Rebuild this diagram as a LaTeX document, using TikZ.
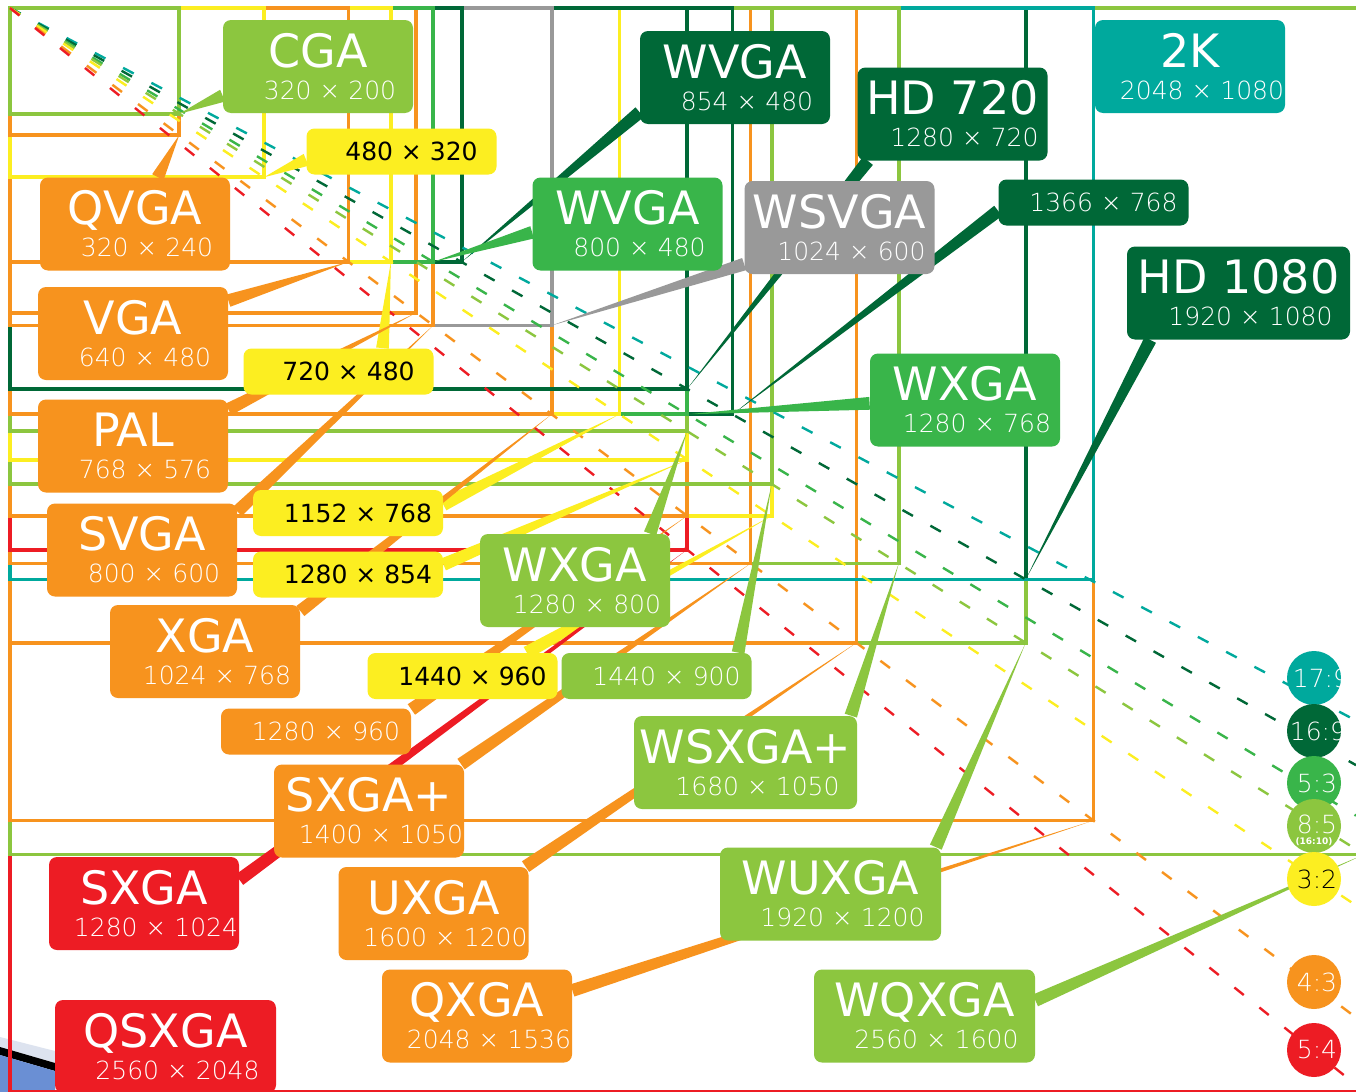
\documentclass[tikz,border=0pt]{standalone}
\usepackage{fontspec}
\setmainfont{DejaVu Sans}
\IfFontExistsTF{DejaVu Sans ExtraLight}
  {\newfontfamily\thinfont{DejaVu Sans ExtraLight}}
  {\newfontfamily\thinfont{DejaVu Sans}}
\usepackage{xcolor}
\usepackage{tikz}
\usetikzlibrary{calc}
\definecolor{resorange}{HTML}{F7931E}
\definecolor{resred}{HTML}{ED1C24}
\definecolor{resyellow}{HTML}{FCEE21}
\definecolor{reslgreen}{HTML}{8CC63F}
\definecolor{resmgreen}{HTML}{39B54A}
\definecolor{resdgreen}{HTML}{006837}
\definecolor{resteal}{HTML}{00A99D}
\definecolor{resgrey}{HTML}{999999}
\definecolor{artband}{HTML}{DDE3EF}
\definecolor{artblue}{HTML}{6A8FD4}
\pgfdeclarelayer{back}
\pgfdeclarelayer{mid}
\pgfsetlayers{back,mid,main}
\newcommand{\namefont}{\rmfamily\fontsize{23}{23}\selectfont}
\newcommand{\resname}[2]{{\namefont #1}\\\hspace*{12pt}#2}

\begin{document}
\begin{tikzpicture}[
  x=0.5pt, y=-0.5pt,
  resline/.style={line width=1.8pt},
  diag/.style={line width=1.2pt, dash pattern=on 6pt off 10pt},
  resbox/.style={rounded corners=4pt, align=center, inner sep=0pt,
                 minimum width=95pt, minimum height=46.5pt, text=white,
                 font=\thinfont\fontsize{12.5}{16}\selectfont},
  dimbox/.style={rounded corners=4pt, inner sep=0pt, minimum width=95pt,
                 minimum height=23pt, font=\fontsize{12.5}{15}\selectfont},
  thindim/.style={dimbox, text=white, font=\thinfont\fontsize{12.5}{15}\selectfont},
  ratiobox/.style={circle, inner sep=0pt, minimum size=27pt, text=white,
                   font=\thinfont\fontsize{12.5}{15}\selectfont}
]
\useasboundingbox (0,0) rectangle (1356,1092);
\coordinate (o) at (10,8);
% ----- resolution frames and aspect diagonals -----
\begin{pgfonlayer}{back}
\clip (0,0) rectangle (1356,1092);
\fill[white] (0,0) rectangle (1356,1092);
% screen edge, bottom left
\fill[artband] (0,1037) -- (55,1051) -- (55,1063) -- (0,1047) -- cycle;
\fill[black] (0,1047) -- (55,1063) -- (55,1071) -- (0,1055) -- cycle;
\fill[artblue] (0,1055) -- (55,1071) -- (55,1092) -- (0,1092) -- cycle;
\foreach \w/\h/\c in {2560/2048/resred, 2560/1600/reslgreen, 2048/1536/resorange,
    1920/1200/reslgreen, 1600/1200/resorange, 1920/1080/resdgreen, 2048/1080/resteal,
    1680/1050/reslgreen, 1400/1050/resorange, 1280/1024/resred, 1440/960/resyellow,
    1280/960/resorange, 1440/900/reslgreen, 1280/854/resyellow, 1280/800/reslgreen,
    1366/768/resdgreen, 1280/768/resmgreen, 1152/768/resyellow, 1024/768/resorange,
    1280/720/resdgreen, 1024/600/resgrey, 800/600/resorange, 768/576/resorange,
    854/480/resdgreen, 800/480/resmgreen, 720/480/resyellow, 640/480/resorange,
    480/320/resyellow, 320/240/resorange, 320/200/reslgreen}{
  \coordinate (c\w-\h) at ({10+0.529*\w},{8+0.529*\h});
  \draw[resline, \c] (o) rectangle (c\w-\h);
}
\foreach \m/\c in {0.5294/resteal, 0.5625/resdgreen, 0.6/resmgreen, 0.625/reslgreen,
    0.6667/resyellow, 0.75/resorange, 0.8/resred}
  {\draw[diag, \c] (o) -- ++(1346,{1346*\m});}
\end{pgfonlayer}
% ----- labels -----
\node[resbox, fill=reslgreen] (cga) at (318,66.5) {\resname{CGA}{320 × 200}};
\node[resbox, fill=resorange] (qvga) at (135,224) {\resname{QVGA}{320 × 240}};
\node[resbox, fill=resorange] (vga) at (133,333.5) {\resname{VGA}{640 × 480}};
\node[resbox, fill=resorange] (pal) at (133,446) {\resname{PAL}{768 × 576}};
\node[resbox, fill=resorange] (svga) at (142,550) {\resname{SVGA}{800 × 600}};
\node[resbox, fill=resorange] (xga) at (205,651.5) {\resname{XGA}{1024 × 768}};
\node[resbox, fill=resred] (sxga) at (144,903.5) {\resname{SXGA}{1280 × 1024}};
\node[resbox, fill=resred, minimum width=110.5pt] (qsxga) at (165.5,1046.5) {\resname{QSXGA}{2560 × 2048}};
\node[resbox, fill=resorange] (sxgaplus) at (369,811) {\resname{SXGA+}{1400 × 1050}};
\node[resbox, fill=resorange] (uxga) at (433.5,913.5) {\resname{UXGA}{1600 × 1200}};
\node[resbox, fill=resorange] (qxga) at (477,1016) {\resname{QXGA}{2048 × 1536}};
\node[resbox, fill=reslgreen] (wxga) at (575,580.5) {\resname{WXGA}{1280 × 800}};
\node[resbox, fill=reslgreen, minimum width=111.5pt] (wsxgaplus) at (745.5,762.5) {\resname{WSXGA+}{1680 × 1050}};
\node[resbox, fill=reslgreen, minimum width=110.5pt] (wuxga) at (830.5,894) {\resname{WUXGA}{1920 × 1200}};
\node[resbox, fill=reslgreen, minimum width=110.5pt] (wqxga) at (924.5,1016) {\resname{WQXGA}{2560 × 1600}};
\node[resbox, fill=resdgreen] (wvgad) at (735,77.5) {\resname{WVGA}{854 × 480}};
\node[resbox, fill=resmgreen] (wvgam) at (627.5,224) {\resname{WVGA}{800 × 480}};
\node[resbox, fill=resgrey] (wsvga) at (839.5,227.5) {\resname{WSVGA}{1024 × 600}};
\node[resbox, fill=resdgreen] (hd720) at (952.5,114) {\resname{HD 720}{1280 × 720}};
\node[resbox, fill=resteal] (twok) at (1190,66.5) {\resname{2K}{2048 × 1080}};
\node[resbox, fill=resdgreen, minimum width=111.5pt] (hd1080) at (1238.5,293) {\resname{HD 1080}{1920 × 1080}};
\node[resbox, fill=resmgreen] (wxgam) at (965,400) {\resname{WXGA}{1280 × 768}};
\node[dimbox, fill=resyellow] (r480x320) at (401.5,151.5) {\hspace*{10pt}480 × 320};
\node[dimbox, fill=resyellow] (r720x480) at (338.5,371.5) {\hspace*{10pt}720 × 480};
\node[dimbox, fill=resyellow] (r1152x768) at (348,513) {\hspace*{10pt}1152 × 768};
\node[dimbox, fill=resyellow] (r1280x854) at (348,574.5) {\hspace*{10pt}1280 × 854};
\node[dimbox, fill=resyellow] (r1440x960) at (462.5,676) {\hspace*{10pt}1440 × 960};
\node[thindim, fill=reslgreen] (r1440x900) at (656.5,676) {\hspace*{10pt}1440 × 900};
\node[thindim, fill=resorange] (r1280x960) at (316,731.5) {\hspace*{10pt}1280 × 960};
\node[thindim, fill=resdgreen] (r1366x768) at (1093.5,202.5) {\hspace*{10pt}1366 × 768};
% ----- leaders, label to frame corner -----
\begin{pgfonlayer}{mid}
\clip (0,0) rectangle (1356,1092);
\foreach \a/\b/\c in {cga.197/c320-200/reslgreen, qvga.64/c320-240/resorange,
    r480x320.185/c480-320/resyellow, vga.19/c640-480/resorange,
    r720x480.28/c720-480/resyellow, pal.21/c768-576/resorange,
    svga.22/c800-600/resorange, r1152x768.5/c1152-768/resyellow,
    r1280x854.6/c1280-854/resyellow, xga.23/c1024-768/resorange,
    wxga.32/c1280-800/reslgreen, r1440x960.20/c1440-960/resyellow,
    r1440x900.16/c1440-900/reslgreen, r1280x960.13/c1280-960/resorange,
    sxgaplus.27/c1400-1050/resorange, sxga.14/c1280-1024/resred,
    wsxgaplus.24/c1680-1050/reslgreen, uxga.27/c1600-1200/resorange,
    wuxga.24/c1920-1200/reslgreen, qxga.15/c2048-1536/resorange,
    wqxga.8/c2560-1600/reslgreen, wvgad.200/c854-480/resdgreen,
    wvgam.185/c800-480/resmgreen, wsvga.201/c1024-600/resgrey,
    hd720.209/c1280-720/resdgreen, r1366x768.185/c1366-768/resdgreen,
    hd1080.208/c1920-1080/resdgreen, wxgam.182/c1280-768/resmgreen}
  {\fill[\c] (\b) -- ($(\a)!3.2pt!90:(\b)$) -- ($(\a)!3.2pt!-90:(\b)$) -- cycle;}
\end{pgfonlayer}
% ----- aspect ratio keys, right edge -----
\node[ratiobox, fill=resteal] (q179) at (1314,678) {\makebox[0pt]{\hspace*{7pt}17:9}};
\node[ratiobox, fill=resdgreen] (q169) at (1314,731) {\makebox[0pt]{\hspace*{4pt}16:9}};
\node[ratiobox, fill=resmgreen] (q53) at (1314,783) {\makebox[0pt]{\hspace*{3pt}5:3}};
\node[ratiobox, fill=reslgreen] (q85) at (1314,826) {\makebox[0pt]{\hspace*{3pt}\raisebox{1.5pt}{8:5}}};
\node[text=white, inner sep=0pt, font=\rmfamily\bfseries\fontsize{4.5}{5}\selectfont]
  (q85sub) at ([yshift=-8pt]q85.center) {(16:10)};
\node[ratiobox, fill=resyellow, text=black] (q32) at (1314,879) {\makebox[0pt]{\hspace*{3pt}3:2}};
\node[ratiobox, fill=resorange] (q43) at (1314,982) {\makebox[0pt]{\hspace*{3pt}4:3}};
\node[ratiobox, fill=resred] (q54) at (1314,1050) {\makebox[0pt]{\hspace*{3pt}5:4}};
\end{tikzpicture}
\end{document}
